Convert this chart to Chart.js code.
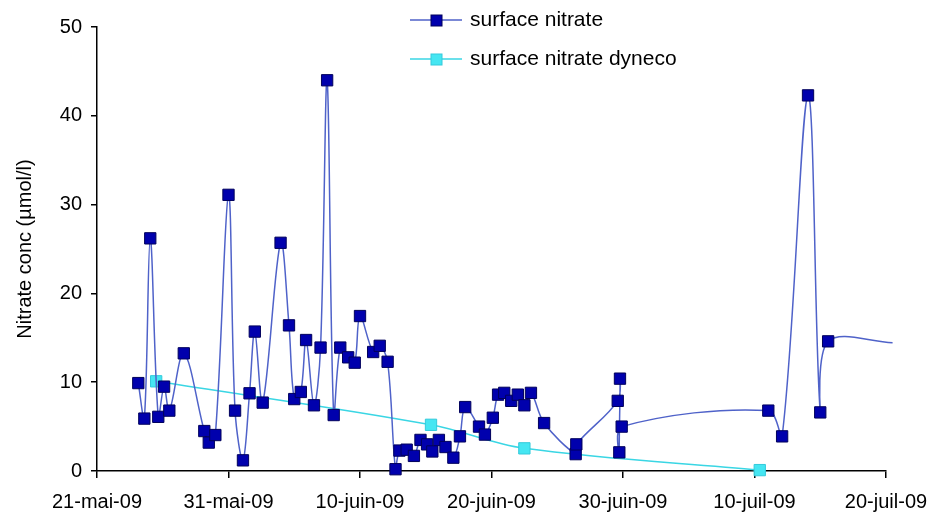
<!doctype html>
<html><head><meta charset="utf-8"/>
<title>Surface nitrate</title>
<script src="https://cdn.jsdelivr.net/npm/chart.js@4"></script>
<style>
  html,body{margin:0;padding:0;background:#fff;}
  canvas{display:block;}
</style></head><body>
<canvas id="chart" width="933" height="519"></canvas>
<script>
// x values are days after 21-mai-09 (axis runs 0..60 days)
const xTickLabels = ['21-mai-09', '31-mai-09', '10-juin-09', '20-juin-09', '30-juin-09', '10-juil-09', '20-juil-09'];

const nitrateDay = [
  3.14, 3.6, 4.05, 4.66, 5.1, 5.5, 6.6, 8.16, 8.5, 9.0,
  10.0, 10.5, 11.1, 11.6, 12.0, 12.6, 13.96, 14.6, 15.0, 15.5,
  15.9, 16.5, 17.0, 17.5, 18.0, 18.5, 19.1, 19.6, 20.0, 21.0,
  21.5, 22.1, 22.7, 23.0, 23.55, 24.1, 24.6, 25.1, 25.5, 26.0,
  26.5, 27.1, 27.6, 28.0, 29.05, 29.5, 30.1, 30.5, 30.97, 31.5,
  32.0, 32.5, 33.0, 34.0, 36.4, 36.45, 39.6, 39.77, 39.72, 39.9,
  51.05, 52.1, 54.07, 55.0, 55.6, 60.5
];
const nitrateValue = [
  9.9, 5.9, 26.2, 6.1, 9.5, 6.8, 13.25, 4.5, 3.2, 4.05,
  31.1, 6.8, 1.2, 8.75, 15.7, 7.7, 25.7, 16.4, 8.1, 8.9,
  14.75, 7.4, 13.9, 44.0, 6.3, 13.9, 12.8, 12.2, 17.45, 13.4,
  14.1, 12.3, 0.2, 2.3, 2.4, 1.7, 3.5, 3.0, 2.2, 3.5,
  2.7, 1.5, 3.9, 7.2, 5.0, 4.1, 6.0, 8.6, 8.8, 7.9,
  8.6, 7.4, 8.8, 5.4, 1.9, 3.0, 7.9, 10.4, 2.1, 5.0,
  6.8, 3.9, 42.3, 6.6, 14.6, 14.45
];

const dynecoDay = [4.5, 25.4, 32.5, 50.4];
const dynecoValue = [10.1, 5.2, 2.55, 0.1];

const FONT = '"Liberation Sans", Arial, Helvetica, sans-serif';
const toPoints = (xs, ys) => xs.map((x, i) => ({ x, y: ys[i] }));

// Excel-style legend sitting inside the top of the plot
const excelLegend = {
  id: 'excelLegend',
  afterDraw(chart) {
    const ctx = chart.ctx;
    const rows = [20, 59];
    chart.data.datasets.forEach((ds, i) => {
      const y = rows[i];
      ctx.save();
      ctx.strokeStyle = ds.borderColor;
      ctx.lineWidth = 1.5;
      ctx.beginPath(); ctx.moveTo(410, y); ctx.lineTo(462, y); ctx.stroke();
      ctx.fillStyle = ds.pointBackgroundColor;
      ctx.strokeStyle = ds.pointBorderColor;
      ctx.lineWidth = 1;
      ctx.fillRect(431, y - 5, 11, 11);
      ctx.strokeRect(431, y - 5, 11, 11);
      ctx.fillStyle = '#000';
      ctx.font = '21px ' + FONT;
      ctx.textBaseline = 'middle';
      ctx.fillText(ds.label, 470, y);
      ctx.restore();
    });
  }
};

new Chart(document.getElementById('chart'), {
  type: 'line',
  data: {
    datasets: [
      {
        label: 'surface nitrate',
        data: toPoints(nitrateDay, nitrateValue),
        borderColor: '#4f62c9',
        borderWidth: 1.5,
        pointStyle: 'rect',
        pointRadius: (c) => (c.dataIndex === nitrateDay.length - 1 ? 0 : 8),
        pointBackgroundColor: '#0000ad',
        pointBorderColor: '#00005c',
        pointBorderWidth: 1,
        tension: 0.35,
        clip: false,
      },
      {
        label: 'surface nitrate dyneco',
        data: toPoints(dynecoDay, dynecoValue),
        borderColor: '#3ad6e4',
        borderWidth: 1.5,
        pointStyle: 'rect',
        pointRadius: 8,
        pointBackgroundColor: '#45e6f2',
        pointBorderColor: '#34cadb',
        pointBorderWidth: 1,
        tension: 0.35,
        clip: false,
      },
    ],
  },
  options: {
    responsive: false,
    animation: false,
    layout: { padding: { top: 27, right: 47, left: 0, bottom: 0 } },
    plugins: { legend: { display: false }, tooltip: { enabled: false } },
    scales: {
      x: {
        type: 'linear',
        min: 0, max: 60,
        afterFit: (s) => { s.height = 48; s.paddingLeft = 0; s.paddingRight = 0; },
        ticks: {
          stepSize: 10,
          maxRotation: 0,
          autoSkip: false,
          color: '#000',
          padding: 12,
          font: { family: FONT, size: 20 },
          callback: (v) => xTickLabels[Math.round(v / 10)],
        },
        grid: { drawOnChartArea: false, drawTicks: true, tickLength: 7, color: '#000', lineWidth: 1.5 },
        border: { display: true, color: '#000', width: 1.5 },
      },
      y: {
        min: 0, max: 50,
        afterFit: (s) => { s.width = 97; },
        ticks: {
          stepSize: 10,
          color: '#000',
          padding: 9,
          font: { family: FONT, size: 20 },
        },
        grid: { drawOnChartArea: false, drawTicks: true, tickLength: 6, color: '#000', lineWidth: 1.5 },
        border: { display: true, color: '#000', width: 1.5 },
        title: {
          display: true,
          text: 'Nitrate conc (µmol/l)',
          color: '#000',
          padding: { top: 13, bottom: 0 },
          font: { family: FONT, size: 20 },
        },
      },
    },
  },
  plugins: [excelLegend],
});
</script>
</body></html>
